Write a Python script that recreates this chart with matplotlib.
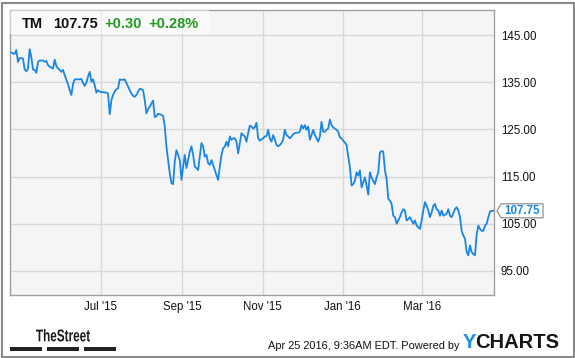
import pandas as pd
import matplotlib
matplotlib.use('Agg')
import matplotlib.pyplot as plt
import matplotlib.dates as mdates
from matplotlib.patches import Rectangle, Polygon, PathPatch
from matplotlib.textpath import TextPath
from matplotlib.font_manager import FontProperties
from matplotlib.transforms import Affine2D

plt.rcParams['font.family'] = ['Liberation Sans', 'DejaVu Sans']

# TM closing prices (Apr 2015 -> Apr 2016)
prices_spring_summer = [
    141.3, 141.1, 141.0, 141.8, 139.3, 140.1, 140.1, 140.0, 137.7, 137.3,
    137.9, 142.0, 140.3, 137.7, 137.6, 137.0, 139.3, 139.6, 139.6, 139.6,
    139.3, 139.5, 138.6, 138.3, 138.1, 137.9, 139.8, 138.4, 137.9, 137.6,
    137.2, 137.6, 136.5, 135.5, 134.6, 133.3, 132.3, 134.6, 135.6, 135.6,
    135.6, 135.6, 135.7, 134.8, 134.2, 134.9, 136.2, 137.2, 135.1, 135.6,
    134.4, 132.8, 133.3, 133.0, 132.9, 132.9, 132.8, 132.8, 132.6, 128.2,
    131.2, 132.3, 133.0, 133.5, 133.7, 135.6, 135.5, 135.5, 135.6, 134.8,
    134.1, 133.3, 132.6, 132.1, 131.9, 132.3, 133.0, 133.6, 133.5, 133.3,
    131.2, 128.4, 129.3, 129.8, 130.5, 131.1, 127.6, 127.8, 128.3, 128.2,
    128.1, 127.9, 125.6, 121.3,
]
prices_autumn = [
    118.5, 115.7, 113.6, 113.4, 118.2, 120.6, 119.6, 118.5, 114.3, 117.1,
    119.6, 116.8, 118.5, 120.3, 121.4, 119.6, 117.1, 116.8, 116.4, 119.2,
    122.1, 121.4, 119.2, 119.6, 117.8, 117.5, 118.5, 117.5, 116.4, 115.3,
    114.3, 117.1, 119.6, 121.0, 121.4, 122.4, 121.4, 123.5, 122.8, 123.1,
    123.1, 122.4, 119.9, 122.1, 124.2, 123.8, 123.5, 122.4, 124.2, 125.8,
    125.6, 125.2, 125.4, 126.4, 123.1, 122.6, 122.9, 123.1, 123.5, 123.6,
    124.9, 123.1, 122.4, 123.8, 122.8, 121.7, 121.4, 121.7, 122.1, 122.9,
    124.9, 123.8, 123.5, 123.1, 123.5, 124.0, 124.2, 124.3, 124.3, 124.5,
    125.9, 125.2, 125.9, 124.9, 125.6, 122.8, 123.8, 124.9, 123.8, 123.1,
    122.4, 123.5, 126.6, 124.5, 124.5, 124.9, 125.2, 127.1, 125.9, 125.4,
    125.2, 124.9, 124.5, 123.3, 123.1, 122.6, 122.2, 121.7, 119.2,
]
prices_winter_spring = [
    117.0, 113.1, 113.4, 114.1, 115.9, 115.2, 116.3, 112.7, 113.8, 114.8,
    113.1, 111.2, 115.9, 114.8, 114.1, 113.4, 114.8, 115.9, 120.1, 120.4,
    120.3, 116.3, 114.5, 110.3, 109.9, 109.2, 106.7, 106.4, 105.0, 105.7,
    106.4, 107.4, 108.1, 107.8, 105.7, 106.0, 106.4, 105.7, 105.0, 105.7,
    104.6, 104.3, 103.9, 105.7, 107.8, 109.6, 108.8, 107.8, 106.4, 107.4,
    108.8, 109.2, 108.1, 107.8, 106.7, 107.8, 106.7, 106.9, 107.1, 108.1,
    106.7, 106.4, 107.2, 108.1, 108.5, 107.8, 106.4, 103.5, 102.5, 101.8,
    99.0, 98.3, 100.4, 99.0, 98.6, 98.3, 102.8, 104.6, 103.9, 103.5,
    103.5, 104.6, 105.0, 106.4, 107.6, 107.7, 107.75,
]
prices = prices_spring_summer + prices_autumn + prices_winter_spring
dates = pd.date_range('2015-04-24', '2016-04-24 12:00', periods=len(prices))

tick_dates = pd.to_datetime(['2015-07-01', '2015-09-01', '2015-11-01',
                             '2016-01-01', '2016-03-01'])
y_ticks = [95, 105, 115, 125, 135, 145]

W, H = 575, 358
fig = plt.figure(figsize=(W / 100, H / 100), dpi=100)
fig.patch.set_facecolor('white')

ax = fig.add_axes([10 / W, 1 - 295 / H, 484 / W, 285 / H])
ax.set_facecolor('#f5f5f5')
ax.plot(dates, prices, color='#1a86e4', lw=1.3, zorder=3)

ax.set_xlim(pd.Timestamp('2015-04-23'), pd.Timestamp('2016-04-25'))
ax.set_ylim(89.9, 150.3)
ax.set_xticks(tick_dates)
ax.xaxis.set_major_formatter(mdates.DateFormatter("%b '%y"))
ax.set_yticks(y_ticks)
ax.set_yticklabels([f'{v:.2f}' for v in y_ticks])
ax.yaxis.tick_right()
ax.tick_params(length=0, labelsize=8.3, colors='#111111')
ax.tick_params(axis='y', pad=5)
ax.tick_params(axis='x', pad=4)
for lab in ax.get_yticklabels():
    lab.set_horizontalalignment('left')
ax.grid(True, color='#d8d8d8', lw=1)
ax.set_axisbelow(True)
for s in ax.spines.values():
    s.set_color('#a0a0a0')
    s.set_linewidth(1)

# header box
fig.patches.append(Rectangle((10 / W, 1 - 34 / H), 199 / W, 24 / H,
                             transform=fig.transFigure, facecolor='white',
                             alpha=0.5, edgecolor='none', zorder=2))
hy = 1 - 28.5 / H
fig.text(22 / W, hy, 'TM', fontsize=10.5, fontweight='bold', color='#111111', va='baseline')
fig.text(53 / W, hy, '107.75', fontsize=10.5, fontweight='bold', color='#111111', va='baseline')
fig.text(104 / W, hy, '+0.30', fontsize=10.5, fontweight='bold', color='#1f9a1f', va='baseline')
fig.text(148 / W, hy, '+0.28%', fontsize=10.5, fontweight='bold', color='#1f9a1f', va='baseline')

# last value flag
fig.canvas.draw()
yp = ax.transData.transform((mdates.date2num(dates[-1]), prices[-1]))[1]
flag = Polygon([(497, yp), (501, yp + 7), (543, yp + 7), (543, yp - 7), (501, yp - 7)],
               closed=True, transform=None, facecolor='white', edgecolor='#9a9a9a',
               lw=1, zorder=5)
fig.patches.append(flag)
fig.text(522 / W, yp / H, f'{prices[-1]:.2f}', fontsize=8.3, fontweight='bold',
         color='#1a86e4', ha='center', va='center', zorder=6)

# footer: TheStreet logo (condensed)
tp = TextPath((0, 0), 'TheStreet', size=16, prop=FontProperties(family='Liberation Sans', weight='bold'))
bb = tp.get_extents()
sx = 54 / bb.width
sy = 12.5 / bb.height
fig.patches.append(PathPatch(tp, transform=Affine2D().translate(-bb.x0, -bb.y0).scale(sx, sy).translate(36, H - 341.5),
                             facecolor='#1a1a1a', edgecolor='none'))
for x0 in (10, 47, 84):
    fig.patches.append(Rectangle((x0, H - 350.5), 32, 3.2, transform=None,
                                 facecolor='#222222', edgecolor='none'))

fig.text(459 / W, 1 - 349 / H, 'Apr 25 2016, 9:36AM EDT. Powered by', fontsize=7.9,
         color='#111111', ha='right', va='baseline')
fig.text(463 / W, 1 - 348 / H, 'Y', fontsize=14.5, fontweight='bold', color='#1a8fe3', va='baseline')
fig.text(475 / W, 1 - 348 / H, 'CHARTS', fontsize=14.5, fontweight='bold', color='#151515', va='baseline')

# outer frame
fig.patches.append(Rectangle((1.5 / W, 1.5 / H), 572 / W, 354 / H, transform=fig.transFigure,
                             facecolor='none', edgecolor='#8a8a8a', lw=1.5))

fig.savefig('out.png', dpi=100)
